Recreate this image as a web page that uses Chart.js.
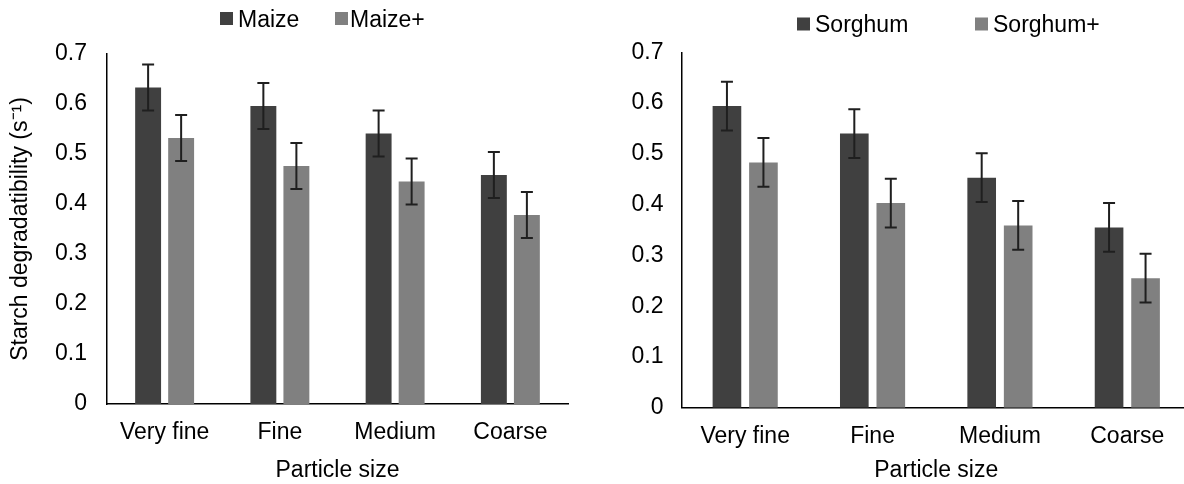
<!DOCTYPE html>
<html>
<head>
<meta charset="utf-8">
<script src="https://cdn.jsdelivr.net/npm/chart.js@4.4.0/dist/chart.umd.min.js"></script>
<style>
body{margin:0;background:#fff;overflow:hidden;}
#wrap{position:relative;width:1184px;height:484px;overflow:hidden;}
#left{position:absolute;left:0;top:0;}
#right{position:absolute;left:600px;top:0;}
</style>
</head>
<body>
<div id="wrap">
<canvas id="left" width="590" height="484"></canvas>
<canvas id="right" width="600" height="484"></canvas>
</div>
<script>
// datos
var categorias = ['Very fine', 'Fine', 'Medium', 'Coarse'];
var yTicks = [0, 0.1, 0.2, 0.3, 0.4, 0.5, 0.6, 0.7];

var maize = [0.633, 0.596, 0.541, 0.458];
var maizeErr = [0.046, 0.046, 0.046, 0.046];
var maizePlus = [0.532, 0.476, 0.445, 0.378];
var maizePlusErr = [0.046, 0.046, 0.046, 0.046];

var sorghum = [0.594, 0.540, 0.453, 0.355];
var sorghumErr = [0.048, 0.048, 0.048, 0.048];
var sorghumPlus = [0.483, 0.403, 0.359, 0.255];
var sorghumPlusErr = [0.048, 0.048, 0.048, 0.048];

var fuente = '"Liberation Sans", Arial, sans-serif';
var tam = 23;
var oscuro = '#404040';
var claro = '#808080';

//barras de error, se dibujan sobre cada barra
var errorBars = {
    id: 'errorBars',
    afterDatasetsDraw: function(chart){
        var ctx = chart.ctx;
        var y = chart.scales.y;
        chart.data.datasets.forEach(function(ds, i){
            var meta = chart.getDatasetMeta(i);
            meta.data.forEach(function(bar, j){
                var top = y.getPixelForValue(ds.data[j] + ds.errores[j]);
                var bot = y.getPixelForValue(ds.data[j] - ds.errores[j]);
                ctx.save();
                ctx.strokeStyle = '#1f1f1f';
                ctx.lineWidth = 2;
                ctx.beginPath();
                ctx.moveTo(bar.x, top); ctx.lineTo(bar.x, bot);
                ctx.moveTo(bar.x - 6, top); ctx.lineTo(bar.x + 6, top);
                ctx.moveTo(bar.x - 6, bot); ctx.lineTo(bar.x + 6, bot);
                ctx.stroke();
                ctx.restore();
            });
        });
    }
};

//leyenda simple arriba del grafico
var leyenda = {
    id: 'leyenda',
    afterDraw: function(chart){
        var opts = chart.options.plugins.leyenda;
        var ctx = chart.ctx;
        ctx.save();
        ctx.font = tam + 'px ' + fuente;
        ctx.textBaseline = 'alphabetic';
        chart.data.datasets.forEach(function(ds, i){
            var x = opts.x[i];
            ctx.fillStyle = ds.backgroundColor;
            ctx.fillRect(x, opts.y - 6.5, 13, 13);
            ctx.fillStyle = '#000';
            ctx.fillText(ds.label, opts.textX[i], opts.y + 8);
        });
        ctx.restore();
    }
};

function grafico(id, series, cfg){
    var datasets = series.map(function(s){
        return {
            label: s.nombre,
            data: s.valores,
            errores: s.err,
            backgroundColor: s.color,
            categoryPercentage: 0.573,
            barPercentage: 0.785
        };
    });
    var yAxis = {
        min: yTicks[0],
        max: yTicks[yTicks.length - 1],
        ticks: {stepSize: yTicks[1] - yTicks[0], color: '#000', padding: cfg.yPad, font: {size: tam, family: fuente}},
        grid: {display: false, drawTicks: false},
        border: {display: true, color: '#000', width: 1.5},
        title: {display: !!cfg.yTitle, text: cfg.yTitle, color: '#000', font: {size: tam, family: fuente}, padding: {top: 7, bottom: 0}},
        afterFit: function(s){ s.width = cfg.yWidth; }
    };
    return new Chart(document.getElementById(id), {
        type: 'bar',
        data: {labels: categorias, datasets: datasets},
        plugins: [errorBars, leyenda],
        options: {
            responsive: false,
            animation: false,
            layout: {padding: {top: cfg.top, right: cfg.right, left: 0, bottom: 0}},
            plugins: {
                legend: {display: false},
                tooltip: {enabled: false},
                leyenda: {x: cfg.legX, textX: cfg.legTextX, y: cfg.legY}
            },
            scales: {
                x: {
                    grid: {display: false, drawTicks: false},
                    border: {display: true, color: '#000', width: 1.5},
                    ticks: {color: '#000', padding: 15, maxRotation: 0, font: {size: tam, family: fuente}},
                    title: {display: true, text: 'Particle size', color: '#000', font: {size: tam, family: fuente}, padding: {top: 0, bottom: 0}},
                    afterFit: function(s){ s.height = cfg.xHeight; }
                },
                y: yAxis
            }
        }
    });
}

grafico('left', [
    {nombre: 'Maize', valores: maize, err: maizeErr, color: oscuro},
    {nombre: 'Maize+', valores: maizePlus, err: maizePlusErr, color: claro}
], {yTitle: 'Starch degradatibility (s⁻¹)', yPad: 20, yWidth: 107, top: 54, right: 22, xHeight: 80,
    legX: [220, 335], legTextX: [238, 350], legY: 18.5});

grafico('right', [
    {nombre: 'Sorghum', valores: sorghum, err: sorghumErr, color: oscuro},
    {nombre: 'Sorghum+', valores: sorghumPlus, err: sorghumPlusErr, color: claro}
], {yTitle: '', yPad: 18, yWidth: 81.5, top: 52.3, right: 9, xHeight: 76.3,
    legX: [197, 375], legTextX: [215, 393], legY: 24});
</script>
</body>
</html>
